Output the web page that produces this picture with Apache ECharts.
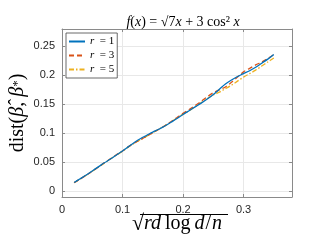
<!DOCTYPE html>
<html><head><meta charset="utf-8">
<script src="https://cdn.jsdelivr.net/npm/echarts@6/dist/echarts.min.js"></script>
<style>html,body{margin:0;padding:0;background:#fff}#c{width:332px;height:249px}</style>
</head><body><div id="c"></div>
<script>
const xs = [0.02,0.03,0.04,0.05,0.06,0.07,0.08,0.09,0.10,0.11,0.12,0.13,0.14,0.15,0.16,0.17,0.18,0.19,0.20,0.21,0.22,0.23,0.24,0.25,0.26,0.27,0.28,0.29,0.30,0.31,0.32,0.33,0.34,0.35];
const r1 = [0.015,0.0215,0.028,0.035,0.042,0.049,0.0555,0.0625,0.0695,0.077,0.0845,0.091,0.0965,0.102,0.107,0.1125,0.119,0.1255,0.1325,0.139,0.1455,0.152,0.159,0.167,0.176,0.185,0.192,0.198,0.203,0.208,0.214,0.221,0.228,0.236];
const r3 = [0.0145,0.021,0.0275,0.0345,0.0415,0.049,0.056,0.063,0.0695,0.077,0.0835,0.089,0.095,0.101,0.107,0.113,0.120,0.127,0.1345,0.141,0.148,0.155,0.163,0.170,0.175,0.180,0.188,0.197,0.206,0.212,0.218,0.223,0.229,0.236];
const r5 = [0.0145,0.021,0.0275,0.0345,0.0415,0.0485,0.0555,0.0625,0.069,0.0765,0.083,0.089,0.095,0.101,0.107,0.113,0.1195,0.1265,0.133,0.139,0.146,0.153,0.160,0.166,0.171,0.177,0.183,0.190,0.197,0.203,0.209,0.216,0.223,0.230];
const names = ['r = 1','r = 3','r = 5'];
const xTicks = [0,0.1,0.2,0.3];
const yTicks = [0,0.05,0.1,0.15,0.2,0.25];

const serif = 'Liberation Serif';
const sans = 'Liberation Sans';
const axisCol = '#262626';
const chart = echarts.init(document.getElementById('c'), null, {renderer:'canvas'});
const pairs = ys => xs.map((x,i)=>[x, ys[i]]);
const gridLine = {show:true, lineStyle:{color:'#e8e8e8', width:1}};
const mkX = (pos, labels) => ({
  type:'value', position:pos, min:0, max:0.38, interval:0.1,
  axisLine:{show:true, onZero:false, lineStyle:{color:'#8a8a8a', width:1}},
  axisTick:{show:true, inside:true, length:3, lineStyle:{color:'#8a8a8a'}},
  axisLabel:{show:labels, margin:7, color:axisCol, fontFamily:sans, fontSize:11, showMaxLabel:false,
    formatter:v=> xTicks.some(t=>Math.abs(t-v)<1e-9) ? String(+v.toFixed(2)) : ''},
  splitLine: pos==='bottom' ? gridLine : {show:false}
});
const mkY = (pos, labels) => ({
  type:'value', position:pos, min:-0.01, max:0.28,
  axisLine:{show:true, onZero:false, lineStyle:{color:'#8a8a8a', width:1}},
  axisTick:{show:true, inside:true, length:3, lineStyle:{color:'#8a8a8a'}, customValues:yTicks},
  axisLabel:{show:labels, margin:7, color:axisCol, fontFamily:sans, fontSize:11, customValues:yTicks,
    formatter:v=>String(+v.toFixed(2))},
  splitLine: pos==='left' ? gridLine : {show:false}
});
const xb = mkX('bottom', true);
xb.name = '{s|√}{i|rd}{n|log}{i|d}{m|/}{i|n}';
xb.nameLocation = 'middle'; xb.nameGap = 16; xb.nameMoveOverlap = false;
xb.nameTextStyle = {rich:{
  s:{fontFamily:serif, fontSize:22, color:'#000'},
  i:{fontFamily:serif, fontStyle:'italic', fontSize:20, color:'#000'},
  n:{fontFamily:serif, fontSize:20, color:'#000', padding:[0,4,0,4]},
  m:{fontFamily:serif, fontSize:20, color:'#000', padding:[0,1,0,1]}}};
const yl = mkY('left', true);
yl.name = '{n|dist(}{i|β̂}{n|, }{i|β}{p|*}{n|)}';
yl.nameLocation = 'middle'; yl.nameGap = 34; yl.nameRotate = 90; yl.nameMoveOverlap = false;
yl.nameTextStyle = {rich:{
  i:{fontFamily:serif, fontStyle:'italic', fontSize:20, color:'#000'},
  n:{fontFamily:serif, fontSize:20, color:'#000'},
  p:{fontFamily:serif, fontSize:13, color:'#000'}}};

const colors = ['#0072BD','#D95319','#EDB120'];
const types = ['solid',[5,3],[5,2,1.5,2]];
const series = [r1,r3,r5].map((d,i)=>({
  name:names[i], type:'line', xAxisIndex:0, yAxisIndex:0, data:pairs(d),
  showSymbol:false, symbol:'none', smooth:0.3, z:5-i,
  lineStyle:{color:colors[i], width:1.3, type:types[i]}, itemStyle:{color:colors[i]}
}));

chart.setOption({
  animation:false,
  backgroundColor:'#fff',
  title:{text:'{i|f}{n|(}{i|x}{n|) = √7}{i|x}{n| + 3 cos²}{i| x}', left:178, top:10, textAlign:'center',
    textStyle:{fontWeight:'normal', rich:{
      i:{fontFamily:serif, fontStyle:'italic', fontWeight:'normal', fontSize:14, color:'#000'},
      n:{fontFamily:serif, fontWeight:'normal', fontSize:14, color:'#000'}}}},
  grid:{left:62, right:40, top:29, bottom:52, containLabel:false},
  legend:{orient:'vertical', left:66, top:33, itemWidth:16, itemHeight:8, itemGap:3,
    padding:[3,3,3,2], borderColor:'#444', borderWidth:0.8, backgroundColor:'#fff',
    itemStyle:{opacity:0},
    data:names, formatter:n=>'{i|r}{n| '+n.slice(1)+'}',
    textStyle:{rich:{
      i:{fontFamily:serif, fontStyle:'italic', fontSize:11, color:'#000'},
      n:{fontFamily:serif, fontSize:11, color:'#000'}}}},
  xAxis:[xb, mkX('top', false)],
  yAxis:[yl, mkY('right', false)],
  graphic:[{type:'line', shape:{x1:140, y1:214.5, x2:228, y2:214.5}, style:{stroke:'#000', lineWidth:1}}],
  series:series
});
</script></body></html>
